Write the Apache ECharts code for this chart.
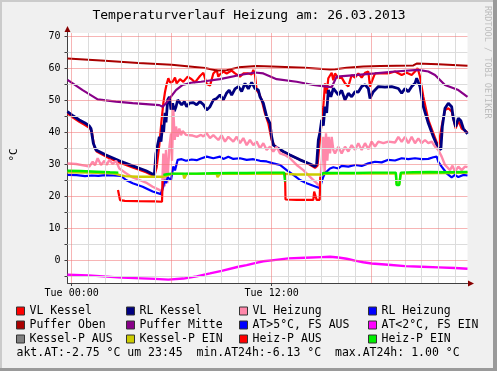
<!DOCTYPE html>
<html><head><meta charset="utf-8">
<script src="https://cdn.jsdelivr.net/npm/echarts@6/dist/echarts.min.js"></script>
<style>html,body{margin:0;padding:0;background:#f0f0f0}#c{width:497px;height:371px}</style>
</head><body><div id="c"></div><script>
// ---- data: [hour of day, °C] ----
const vlKessel = [[-0.25,45.8],[0.1,44.4],[0.46,43.2],[0.8,42.2],[1.06,41.3],[1.2,40.4],[1.35,35.5],[1.5,33.9],[2.06,32.3],[2.86,30.5],[3.66,28.9],[4.46,27.4],[4.96,26.2],[5.1,29],[5.26,36],[5.4,44],[5.5,49],[5.6,52.5],[5.7,55],[5.8,56.8],[5.9,55.5],[6.06,55.7],[6.2,57],[6.3,55.2],[6.5,56.5],[6.7,55.7],[6.96,57.3],[7.2,56.5],[7.4,55.5],[7.7,57.5],[7.9,58.5],[8.1,55],[8.3,54.5],[8.5,58.3],[8.7,59.4],[8.8,57.3],[8.9,58],[9.1,58.9],[9.3,58.3],[9.6,59.2],[9.8,58.3],[10.1,57.3],[10.3,58.3],[10.6,58.3],[10.8,58],[10.9,59.4],[11.0,57.8],[11.1,53.1],[11.25,52],[11.4,50],[11.6,45.8],[11.8,42.7],[12.0,37.5],[12.2,35.4],[12.5,34.4],[12.9,33.3],[13.5,31.8],[14.1,30.4],[14.6,28.8],[14.75,29.5],[14.9,38],[15.1,47.9],[15.2,55.2],[15.3,52],[15.4,56.8],[15.6,58.5],[15.7,56.2],[15.8,58.3],[16,56.8],[16.2,57],[16.4,55.2],[16.6,54.2],[16.8,57.8],[17,57],[17.2,58.3],[17.4,57],[17.6,58.5],[17.8,58.9],[17.9,54.2],[18,55.7],[18.2,58.3],[18.6,58.3],[19,58.3],[19.4,58.9],[19.8,57.8],[20.1,58.5],[20.4,57.8],[20.6,58.9],[20.76,59.9],[20.9,57.3],[21.1,51],[21.4,43.75],[21.7,39.6],[22,35.4],[22.1,35],[22.2,41.7],[22.4,46.9],[22.6,47.4],[22.8,46.4],[23.04,41.1],[23.2,43.5],[23.4,41.1],[23.75,39.9]];
const rlKessel = [[-0.25,46.4],[0.1,45],[0.46,43.75],[0.8,42.8],[1.06,41.9],[1.16,41.1],[1.3,36.5],[1.46,34.4],[2.06,32.8],[2.86,31],[3.66,29.4],[4.46,27.9],[4.96,26.6],[5.06,33.3],[5.16,36],[5.26,38.5],[5.36,37],[5.46,42.2],[5.52,40],[5.6,46],[5.66,43],[5.76,50],[5.86,51],[5.96,47],[6.06,49],[6.16,46.5],[6.26,47.9],[6.36,50],[6.46,49.5],[6.6,48.5],[6.76,49.5],[6.9,47.9],[7.06,49],[7.3,49.2],[7.5,48.5],[7.7,49.5],[7.9,48.6],[8.1,46.9],[8.3,47.9],[8.5,50],[8.7,50.5],[8.9,51.6],[9.1,50],[9.3,52.2],[9.45,53.1],[9.6,51.5],[9.8,53.5],[10,54.2],[10.2,52.7],[10.4,55.2],[10.6,53.5],[10.8,55.5],[10.9,56],[11.0,53.6],[11.2,53.1],[11.3,51],[11.5,49],[11.7,44.8],[11.9,42.7],[12.0,38.5],[12.1,35.9],[12.4,34.9],[12.7,33.9],[13.1,32.8],[13.7,31.3],[14.3,30],[14.6,29.2],[14.7,30],[14.8,37.5],[14.9,40],[15.0,43.75],[15.1,42],[15.2,47.9],[15.3,46],[15.4,53.1],[15.55,51],[15.7,53.6],[15.8,53.1],[16,51.6],[16.2,53],[16.4,50],[16.6,52.1],[16.8,51],[17,52.6],[17.2,52.5],[17.4,54.2],[17.6,54.8],[17.8,53.6],[17.9,50.5],[18.1,52.6],[18.4,54.2],[18.8,54],[19.2,54.2],[19.6,53.6],[19.8,52.1],[20,53.6],[20.2,52.6],[20.4,54.2],[20.6,55.2],[20.7,56.8],[20.9,54.2],[21.1,47.9],[21.4,42.7],[21.7,38.5],[22.0,34.9],[22.15,34.5],[22.24,41.7],[22.4,47.4],[22.6,49],[22.8,47.9],[22.9,44.3],[23.04,41.7],[23.2,44.3],[23.35,43.5],[23.5,41.1],[23.75,39.4]];
const vlHeizung = [[-0.25,30.2],[0.26,30],[0.86,29.4],[1.06,29.2],[1.26,30.7],[1.4,29.6],[1.56,31.8],[1.76,29.7],[1.96,31],[2.1,29.7],[2.26,31.3],[2.46,30],[2.66,31],[2.86,28.6],[3.26,27.1],[3.66,25.8],[4.06,25],[4.46,24.2],[4.86,22.9],[5.26,21.9],[5.42,21.4],[5.5,33.3],[5.58,23],[5.66,34.4],[5.74,24],[5.86,35],[5.96,39.6],[6.02,31],[6.1,46.9],[6.18,37.5],[6.26,41.7],[6.36,38.5],[6.46,41.1],[6.56,39],[6.66,40.3],[6.86,39.1],[7.06,39],[7.26,38.9],[7.5,38.5],[7.76,39.1],[7.9,38.6],[8.1,39.6],[8.3,38.1],[8.5,39],[8.8,37.5],[9.0,39],[9.2,37],[9.4,38.5],[9.7,37],[9.9,38.5],[10.1,36.5],[10.3,38.1],[10.5,35.9],[10.7,37.5],[10.9,35.9],[11.1,37],[11.3,34.9],[11.5,36.5],[11.7,34.4],[11.9,35.4],[12.1,33.9],[12.3,35.4],[12.5,33.3],[12.8,32.8],[13.1,31.8],[13.5,29.7],[13.9,28.1],[14.3,26],[14.7,24],[14.9,22.9],[15.0,23.5],[15.1,38.5],[15.18,27],[15.26,39.6],[15.34,31],[15.42,38.5],[15.5,33.3],[15.6,38.5],[15.7,34.4],[15.8,33.3],[16,35.4],[16.2,33.3],[16.4,35.4],[16.6,33.9],[16.8,35.9],[17,34.4],[17.2,36.5],[17.4,34.4],[17.6,36.5],[17.8,34.6],[18,37],[18.2,35.4],[18.4,37],[18.7,36.5],[19,37],[19.4,36.7],[19.6,38.5],[19.8,36.9],[20,38.5],[20.2,36.5],[20.4,38.5],[20.6,36.5],[20.8,38],[21,36.5],[21.2,37.5],[21.4,36.5],[21.6,37],[21.8,35.4],[22,34.4],[22.2,32.3],[22.4,29.7],[22.7,28.1],[22.85,29.5],[23,27.6],[23.2,29.2],[23.4,28.1],[23.6,29.2],[23.75,29]];
const rlHeizung = [[-0.25,26.6],[0.3,26.5],[0.8,26.2],[1.2,26.4],[1.6,26.3],[2.0,26.5],[2.5,26.4],[2.96,26.3],[3.26,25],[3.66,24],[4.26,22.9],[4.86,21.4],[5.36,20.6],[5.45,20.8],[5.5,23],[5.58,25],[5.66,24],[5.76,25.8],[5.86,25.5],[5.96,25],[6.1,29.2],[6.2,28],[6.36,31.3],[6.6,31.5],[6.86,31],[7.2,31.4],[7.5,31.2],[7.76,31.7],[8.1,32.3],[8.5,31.8],[8.9,32.3],[9.1,31.6],[9.4,32.3],[9.7,31.6],[10.1,31.8],[10.5,31.3],[10.9,31.5],[11.3,31],[11.7,30.8],[12.1,30.2],[12.5,29.7],[12.9,28.1],[13.3,26.6],[13.7,25],[14.1,24],[14.5,23.2],[14.9,22.4],[15.0,24.5],[15.1,26],[15.2,27.1],[15.3,26.5],[15.5,28.6],[15.7,29],[16.0,28.6],[16.2,29.4],[16.6,29.2],[17,29.7],[17.4,29.4],[17.8,30.2],[18.2,30.7],[18.6,30.5],[19,31.3],[19.4,31.1],[19.8,31.8],[20.2,31.5],[20.6,31.8],[21.0,31.5],[21.4,31.6],[21.7,32.1],[21.9,32.3],[22.0,30.7],[22.2,29.2],[22.5,27.1],[22.8,25.8],[23.0,26.6],[23.2,25.9],[23.5,26.6],[23.75,26.4]];
const pufferOben = [[-0.25,63.0],[2,62.3],[4,61.6],[6,61.0],[8,60.0],[8.7,59.2],[9.3,59.3],[10,60.2],[11.1,60.6],[12,60.5],[14,60.1],[15.5,59.5],[15.8,59.6],[16.5,60.1],[17.5,60.5],[18.5,60.6],[20.5,60.8],[20.7,61.4],[22,61.2],[23.75,60.7]];
const pufferMitte = [[-0.25,56.3],[0.66,53.1],[1.56,50.2],[2.66,49.5],[3.66,49.0],[5.26,48.4],[5.46,47.9],[5.66,49],[6.26,53.1],[6.66,54.7],[7.16,55.4],[7.76,55.7],[8.9,56.5],[10.1,57.8],[11.0,58.6],[11.5,58.3],[12.3,56.5],[13.5,55.7],[14.5,54.7],[15.3,54.2],[15.6,54.0],[15.9,57.3],[17,57.8],[18.2,58.3],[19.4,58.9],[20.8,59.4],[21.4,58.9],[21.8,57.8],[22.4,54.7],[23.2,53.1],[23.75,51.0]];
const atWarm = [];
const atKalt = [[-0.25,-4.6],[1,-4.8],[3,-5.5],[5,-5.9],[5.8,-6.13],[6.7,-5.8],[7.5,-5.1],[8.3,-4.2],[9,-3.4],[10,-2.1],[10.5,-1.6],[11,-1.0],[11.5,-0.4],[12,-0.1],[12.5,0.2],[13,0.5],[14,0.7],[15,0.9],[15.5,1.0],[16,0.8],[16.5,0.4],[17,-0.2],[17.5,-0.7],[18,-1.1],[19,-1.5],[20,-1.9],[21,-2.1],[22,-2.3],[23,-2.5],[23.75,-2.75]];
const kesselPAus = [];
const kesselPEin = [[-0.25,27.4],[1,27.3],[2.5,27.1],[2.86,26.6],[3.2,26.2],[4,26.0],[5,26.0],[5.46,26.0],[5.55,26.6],[6,26.9],[6.7,26.9],[6.75,25.5],[6.85,25.5],[6.9,26.9],[7.5,26.9],[8.7,26.9],[8.75,25.9],[8.85,25.9],[8.9,26.9],[10,26.9],[12,27.0],[12.8,26.9],[13.5,26.7],[14.5,26.7],[15.0,26.7],[15.2,26.9],[16,27.0],[18,27.0],[19.45,27.0],[19.5,23.6],[19.65,23.6],[19.75,27.0],[21,27.1],[22.5,27.2],[23.75,27.3]];
const heizPAus = [[2.78,21.9],[2.86,21.9],[2.9,18.7],[3.2,18.5],[4,18.4],[5,18.3],[5.42,18.2],[5.46,25],[5.48,null],[12.8,27.2],[12.83,18.9],[13.5,18.8],[14.5,18.8],[14.55,21.4],[14.65,21.4],[14.7,18.8],[14.88,18.8],[14.92,26]];
const heizPEin = [[-0.25,27.9],[0.5,27.8],[1.5,27.6],[2.3,27.4],[2.8,27.3],[2.82,null],[5.5,26.6],[5.7,26.8],[6.0,27.0],[7.5,27.0],[8.5,27.1],[9.5,27.2],[10.5,27.2],[11.5,27.3],[12.3,27.3],[12.75,27.3],[12.8,24.5],[12.85,null],[14.95,26.4],[15.1,27.2],[16,27.2],[17,27.2],[18,27.3],[19,27.3],[19.45,27.3],[19.5,23.4],[19.65,23.4],[19.75,27.3],[20.5,27.4],[21.5,27.5],[22.5,27.4],[23.75,27.5]];

// ---- axis / grid definitions ----
const xLabelHours = [0, 12];
const xLabelText = {0: 'Tue 00:00', 12: 'Tue 12:00'};
const yLabels = [0,10,20,30,40,50,60,70];
const yTicks = [-5,0,5,10,15,20,25,30,35,40,45,50,55,60,65,70];
const vGridMinor = [1,2,3,4,5,7,8,9,10,11,13,14,15,16,17,19,20,21,22,23];
const vGridMajor = [0,6,12,18];
const hGridMinor = [-5,5,15,25,35,45,55,65];
const hGridMajor = [0,10,20,30,40,50,60,70];

const mono = 'DejaVu Sans Mono';
const seriesDefs = [
  ['VL Kessel', vlKessel, '#ff0000', 2.2],
  ['RL Kessel', rlKessel, '#000080', 2.8],
  ['VL Heizung', vlHeizung, '#ff88aa', 2.4],
  ['RL Heizung', rlHeizung, '#0000ff', 2.2],
  ['Puffer Oben', pufferOben, '#aa0000', 2],
  ['Puffer Mitte', pufferMitte, '#880088', 2.2],
  ['AT>5°C, FS AUS', atWarm, '#0000ff', 2.4],
  ['AT<2°C, FS EIN', atKalt, '#ff00ff', 2.4],
  ['Kessel-P AUS', kesselPAus, '#808080', 2.4],
  ['Kessel-P EIN', kesselPEin, '#cccc00', 2.4],
  ['Heiz-P AUS', heizPAus, '#ff0000', 2.2],
  ['Heiz-P EIN', heizPEin, '#00ee00', 2.4]
];

const gridMarks = [].concat(
  vGridMinor.map(h => ({xAxis: h, lineStyle: {color: '#dcdcdc'}})),
  hGridMinor.map(v => ({yAxis: v, lineStyle: {color: '#dcdcdc'}})),
  vGridMajor.map(h => ({xAxis: h, lineStyle: {color: 'rgba(240,120,120,0.55)'}})),
  hGridMajor.map(v => ({yAxis: v, lineStyle: {color: 'rgba(240,120,120,0.55)'}}))
);

const series = [{
  type: 'line', name: '__grid', data: [], z: 1, silent: true,
  markLine: {silent: true, symbol: ['none','none'], animation: false,
    label: {show: false}, lineStyle: {type: 'solid', width: 1}, data: gridMarks}
}].concat(seriesDefs.map(d => ({
  type: 'line', name: d[0], data: d[1], z: 2,
  showSymbol: false, symbol: 'none', connectNulls: false,
  color: d[2], itemStyle: {color: d[2]},
  lineStyle: {color: d[2], width: d[3]}, animation: false
})));

const legendCols = [
  ['VL Kessel','Puffer Oben','Kessel-P AUS'],
  ['RL Kessel','Puffer Mitte','Kessel-P EIN'],
  ['VL Heizung','AT>5°C, FS AUS','Heiz-P AUS'],
  ['RL Heizung','AT<2°C, FS EIN','Heiz-P EIN']
];
const legendLeft = [16, 126, 239, 368];

const chart = echarts.init(document.getElementById('c'), null, {renderer: 'canvas'});
chart.setOption({
  backgroundColor: '#f0f0f0',
  animation: false,
  textStyle: {fontFamily: mono},
  grid: {left: 67.5, top: 33, width: 400, height: 250, show: true, backgroundColor: '#ffffff', borderWidth: 0},
  xAxis: {
    type: 'value', min: -0.25, max: 23.75, interval: 12,
    axisLine: {onZero: false, lineStyle: {color: '#404040', width: 1}},
    axisTick: {show: true, length: 3, customValues: xLabelHours, lineStyle: {color: '#404040'}},
    axisLabel: {customValues: xLabelHours, margin: 5, fontSize: 10, fontFamily: mono, color: '#000',
      formatter: v => xLabelText[Math.round(v*100)/100] || ''},
    splitLine: {show: false}, minorSplitLine: {show: false}
  },
  yAxis: {
    type: 'value', min: -7.1875, max: 70.9375, interval: 5,
    axisLine: {show: true, onZero: false, lineStyle: {color: '#404040', width: 1}},
    axisTick: {show: true, length: 3, customValues: yTicks, lineStyle: {color: '#404040'}},
    axisLabel: {customValues: yLabels, margin: 7, fontSize: 10, fontFamily: mono, color: '#000',
      formatter: v => (Math.abs(v - Math.round(v/10)*10) < 1e-6 ? String(Math.round(v)) : '')},
    splitLine: {show: false}, minorSplitLine: {show: false}
  },
  legend: legendCols.map((d, i) => ({
    data: d, orient: 'vertical', left: legendLeft[i], top: 304, itemGap: 0,
    itemWidth: 8, itemHeight: 8, icon: 'rect', padding: 0, selectedMode: false,
    itemStyle: {borderColor: '#333', borderWidth: 1},
    textStyle: {fontFamily: mono, fontSize: 11.5, color: '#000', lineHeight: 14}
  })),
  series: series,
  graphic: [
    {type: 'rect', shape: {x: 0, y: 0, width: 497, height: 2}, style: {fill: '#cbcbcb'}, silent: true},
    {type: 'rect', shape: {x: 0, y: 0, width: 2, height: 371}, style: {fill: '#cbcbcb'}, silent: true},
    {type: 'rect', shape: {x: 0, y: 368, width: 497, height: 3}, style: {fill: '#9a9a9a'}, silent: true},
    {type: 'rect', shape: {x: 493, y: 0, width: 4, height: 371}, style: {fill: '#9a9a9a'}, silent: true},
    {type: 'text', x: 249, y: 16, silent: true,
     style: {text: 'Temperaturverlauf Heizung am: 26.03.2013', font: '13px "DejaVu Sans Mono"', fill: '#000', textAlign: 'center', textVerticalAlign: 'middle'}},
    {type: 'text', x: 14, y: 155, rotation: Math.PI/2, silent: true,
     style: {text: '°C', font: '11px "DejaVu Sans Mono"', fill: '#000', textAlign: 'center', textVerticalAlign: 'middle'}},
    {type: 'text', x: 487.5, y: 6, rotation: -Math.PI/2, silent: true,
     style: {text: 'RRDTOOL / TOBI OETIKER', font: '8.5px "DejaVu Sans Mono"', fill: '#bdbdbd', textAlign: 'left', textVerticalAlign: 'middle'}},
    {type: 'text', x: 16.5, y: 353.5, silent: true,
     style: {text: 'akt.AT:-2.75 °C um 23:45  min.AT24h:-6.13 °C  max.AT24h: 1.00 °C', font: '11.5px "DejaVu Sans Mono"', fill: '#000', textAlign: 'left', textVerticalAlign: 'middle'}},
    {type: 'line', shape: {x1: 67.5, y1: 33, x2: 67.5, y2: 29}, style: {stroke: '#404040', lineWidth: 1}, silent: true},
    {type: 'polygon', shape: {points: [[67.5, 26], [64.5, 32], [70.5, 32]]}, style: {fill: '#880000'}, silent: true},
    {type: 'polygon', shape: {points: [[474, 283.5], [468, 280.5], [468, 286.5]]}, style: {fill: '#880000'}, silent: true}
  ]
});
</script></body></html>
